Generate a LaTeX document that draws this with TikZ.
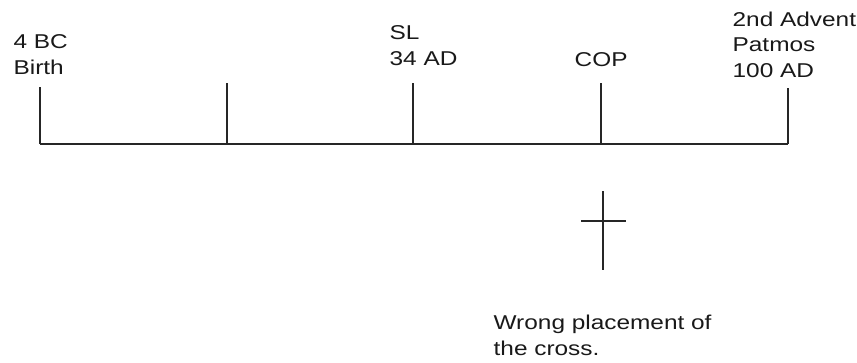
\documentclass[tikz,border=0pt]{standalone}
\usepackage{fontspec}
\setmainfont{Liberation Sans}[FakeStretch=1.22]
\usetikzlibrary{positioning}

\begin{document}
\begin{tikzpicture}[x=1pt, y=-1pt, line width=1.3pt, draw=black!85,
	lbl/.style={font=\fontsize{20}{25.5}\selectfont, text=black!90, inner sep=0pt, align=left, anchor=base west}]
	\useasboundingbox (0,0) rectangle (857,362);

	% timeline
	\coordinate (first) at (40,144);
	\coordinate (last) at (788,144);
	\draw (first) -- (last);

	\foreach \n/\x/\t in {birth/40/87, mid/227/83, sl/413/83, cop/601/83, advent/788/88} {
		\coordinate (\n foot) at (\x,144);
		\coordinate (\n top) at (\x,\t);
		\draw (\n foot) -- (\n top);
	};

	% labels (anchored on the baseline of their last line)
	\node[lbl] (birth) at (13,74) {4 BC\\Birth};
	\node[lbl] (sl) at (389,65) {SL\\34 AD};
	\node[lbl] (cop) at (574,66) {COP};
	\node[lbl] (advent) at (732,77) {2nd Advent\\Patmos\\100 AD};

	% the cross
	\coordinate (cross top) at (603,191);
	\coordinate (cross foot) at (603,270);
	\coordinate (cross left) at (581,221);
	\coordinate (cross right) at (626,221);
	\draw (cross top) -- (cross foot);
	\draw (cross left) -- (cross right);

	\node[lbl] (note) at (493,355) {Wrong placement of\\the cross.};
\end{tikzpicture}
\end{document}
